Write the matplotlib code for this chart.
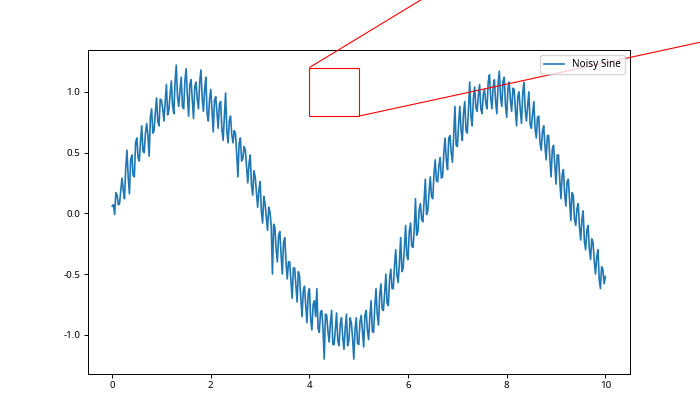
import numpy as np
import matplotlib
matplotlib.use("Agg")
import matplotlib.pyplot as plt
from mpl_toolkits.axes_grid1.inset_locator import mark_inset

plt.rcParams['font.family'] = ['Noto Sans', 'DejaVu Sans']
plt.rcParams['axes.unicode_minus'] = False
plt.rcParams['axes.linewidth'] = 0.7
plt.rcParams['xtick.major.width'] = 0.7
plt.rcParams['ytick.major.width'] = 0.7

# Noisy sine values (x runs 0..10)
noisy_y = [
    0.06, 0.07, -0.01, 0.17, 0.15, 0.07, 0.08, 0.19, 0.29, 0.19,
    0.12, 0.37, 0.52, 0.30, 0.16, 0.44, 0.48, 0.31, 0.30, 0.58,
    0.62, 0.46, 0.43, 0.59, 0.72, 0.51, 0.50, 0.66, 0.74, 0.64,
    0.47, 0.79, 0.86, 0.66, 0.68, 0.83, 0.95, 0.76, 0.72, 0.94,
    0.93, 0.86, 0.76, 0.92, 1.06, 0.81, 0.85, 0.98, 1.09, 0.89,
    0.82, 1.08, 1.22, 0.96, 0.88, 1.01, 1.12, 0.88, 0.86, 1.09,
    1.19, 0.97, 0.80, 1.06, 1.10, 0.93, 0.78, 1.04, 1.08, 0.94,
    0.86, 1.08, 1.18, 0.95, 0.84, 1.02, 1.12, 0.82, 0.76, 0.94,
    1.02, 0.84, 0.67, 0.93, 0.96, 0.83, 0.70, 0.90, 0.92, 0.69,
    0.60, 0.79, 0.99, 0.68, 0.58, 0.76, 0.80, 0.65, 0.58, 0.68,
    0.66, 0.49, 0.30, 0.58, 0.62, 0.43, 0.45, 0.55, 0.52, 0.38,
    0.25, 0.41, 0.48, 0.23, 0.15, 0.35, 0.30, 0.18, 0.05, 0.19,
    0.26, 0.02, -0.08, 0.14, 0.08, -0.03, -0.14, 0.05, 0.01, -0.10,
    -0.50, -0.09, -0.12, -0.30, -0.40, -0.18, -0.15, -0.34, -0.50, -0.24,
    -0.20, -0.40, -0.54, -0.40, -0.40, -0.56, -0.70, -0.45, -0.45, -0.59,
    -0.73, -0.48, -0.52, -0.70, -0.85, -0.64, -0.60, -0.76, -0.90, -0.66,
    -0.62, -0.87, -0.96, -0.75, -0.72, -0.85, -0.62, -0.95, -0.98, -0.81,
    -0.80, -0.95, -1.20, -0.83, -0.84, -0.97, -1.06, -0.90, -0.80, -1.08,
    -1.08, -0.96, -0.82, -1.05, -1.09, -0.91, -0.86, -1.02, -1.12, -0.95,
    -0.83, -1.09, -1.05, -0.86, -0.90, -1.03, -1.20, -0.95, -0.86, -1.07,
    -1.08, -0.89, -0.84, -0.97, -1.10, -0.84, -0.80, -0.96, -1.04, -0.85,
    -0.72, -0.97, -0.98, -0.77, -0.62, -0.83, -0.92, -0.67, -0.58, -0.79,
    -0.80, -0.66, -0.50, -0.74, -0.76, -0.54, -0.46, -0.62, -0.62, -0.43,
    -0.30, -0.51, -0.57, -0.40, -0.20, -0.48, -0.45, -0.29, -0.10, -0.35,
    -0.38, -0.15, -0.08, -0.27, -0.28, -0.14, 0.12, -0.18, -0.15, 0.03,
    0.08, -0.05, -0.07, 0.10, 0.28, -0.01, 0.02, 0.17, 0.30, 0.14,
    0.12, 0.32, 0.44, 0.27, 0.26, 0.39, 0.46, 0.29, 0.30, 0.50,
    0.62, 0.44, 0.36, 0.62, 0.64, 0.50, 0.42, 0.64, 0.88, 0.56,
    0.55, 0.74, 0.88, 0.68, 0.60, 0.83, 0.92, 0.68, 0.66, 0.86,
    1.08, 0.80, 0.72, 0.95, 1.04, 0.87, 0.84, 0.97, 1.06, 0.86,
    0.82, 0.98, 1.02, 0.91, 0.86, 1.08, 1.14, 0.96, 0.86, 1.04,
    1.10, 0.92, 0.82, 1.06, 1.17, 0.96, 0.88, 1.09, 1.12, 0.89,
    0.79, 1.03, 1.08, 0.93, 0.84, 1.03, 1.02, 0.86, 0.72, 0.96,
    1.00, 0.85, 0.74, 0.99, 1.08, 0.85, 0.76, 0.89, 1.00, 0.73,
    0.70, 0.82, 0.92, 0.70, 0.62, 0.79, 0.80, 0.58, 0.52, 0.67,
    0.72, 0.56, 0.44, 0.64, 0.64, 0.45, 0.30, 0.53, 0.56, 0.40,
    0.24, 0.48, 0.48, 0.28, 0.12, 0.32, 0.36, 0.16, 0.06, 0.26,
    0.28, 0.11, -0.06, 0.17, 0.15, -0.05, -0.10, 0.04, 0.08, -0.11,
    -0.22, -0.05, 0.02, -0.23, -0.30, -0.14, -0.10, -0.29, -0.38, -0.21,
    -0.24, -0.39, -0.50, -0.36, -0.30, -0.54, -0.62, -0.44, -0.46, -0.58,
    -0.52,
]
x_start, x_end = 0, 10
zoom_x = [4, 5]
zoom_y = [0.8, 1.2]
title = "How2matplotlib.com: Plot with Zoom-in View"
series_label = "Noisy Sine"

x = np.linspace(x_start, x_end, len(noisy_y))
y = np.array(noisy_y)

fig, ax = plt.subplots(figsize=(7, 4.2), dpi=100)
ax.plot(x, y, label=series_label, lw=1.2)
ax.set_title(title, fontsize=12, pad=3)
ax.tick_params(labelsize=7, length=2.6, pad=2.6)
ax.legend(loc="upper right", fontsize=7.2)

axins = ax.inset_axes([1.245, 1.199, 0.363, 0.599])
axins.plot(x, y, lw=1.2)
axins.set_xlim(*zoom_x)
axins.set_ylim(*zoom_y)
axins.tick_params(labelbottom=False, labelleft=False)
mark_inset(ax, axins, loc1=2, loc2=4, fc="none", ec="red", lw=0.8)

fig.savefig("out.png", dpi=100)
